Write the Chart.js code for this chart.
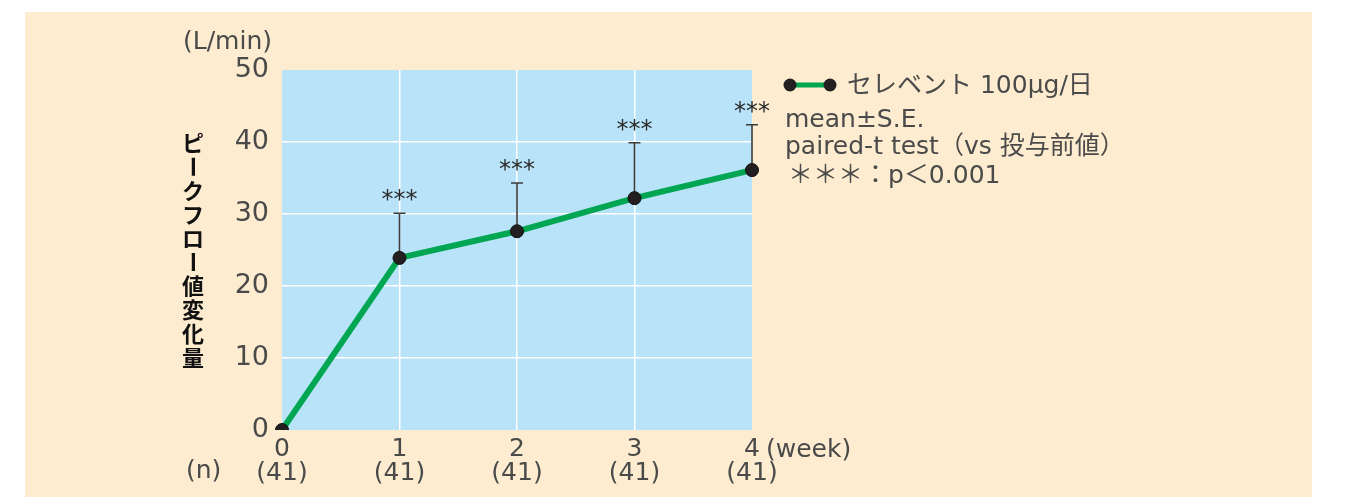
<!DOCTYPE html>
<html>
<head>
<meta charset="utf-8">
<script src="https://cdn.jsdelivr.net/npm/chart.js@4/dist/chart.umd.min.js"></script>
<style>
  html, body { margin: 0; padding: 0; background: #ffffff; }
  #wrap { width: 1346px; height: 497px; position: relative; }
</style>
</head>
<body>
<div id="wrap"><canvas id="peakFlowChart" width="1346" height="497"></canvas></div>
<script>
// Data
const weeks = ["0", "1", "2", "3", "4"];
const sampleSizes = ["41", "41", "41", "41", "41"];
const meanChange = [0, 23.9, 27.6, 32.2, 36.1];
const upperSE = [0, 30.1, 34.3, 39.9, 42.4];
const significance = ["", "***", "***", "***", "***"];
const yTicks = [0, 10, 20, 30, 40, 50];

const FONT = "'DejaVu Sans', 'Noto Sans CJK JP', sans-serif";
const JP_FONT = "'Noto Sans CJK JP', sans-serif";
const TEXT = "#4a4a4a";

/**
 * Panel + plot background, error bars, asterisks, titles and legend
 */
const decorations = {
  id: "decorations",
  beforeDraw: (chart) => {
    const { ctx, chartArea: a } = chart;
    ctx.save();
    ctx.fillStyle = "#fdeccf";
    ctx.fillRect(25, 12, 1287, 485);
    ctx.fillStyle = "#b8e3f8";
    ctx.fillRect(a.left, a.top, a.right - a.left, a.bottom - a.top);
    ctx.restore();
  },
  beforeDatasetsDraw: (chart) => {
    const { ctx, scales } = chart;
    const x = scales.x;
    const y = scales.y;
    ctx.save();
    ctx.strokeStyle = "#3d3d3d";
    ctx.lineWidth = 1.6;
    meanChange.forEach((v, i) => {
      if (upperSE[i] <= v) return;
      const px = x.getPixelForValue(i);
      const top = y.getPixelForValue(upperSE[i]);
      ctx.beginPath();
      ctx.moveTo(px, y.getPixelForValue(v));
      ctx.lineTo(px, top);
      ctx.moveTo(px - 6, top);
      ctx.lineTo(px + 6, top);
      ctx.stroke();
      if (significance[i]) {
        ctx.fillStyle = "#2a2a2a";
        ctx.font = "24px 'DejaVu Sans'";
        ctx.textAlign = "center";
        ctx.textBaseline = "alphabetic";
        // DejaVu's asterisk sits high, so drop the baseline to centre it
        ctx.fillText(significance[i], px, top - 19 + 13);
      }
    });
    ctx.restore();
  },
  afterDraw: (chart) => {
    const { ctx } = chart;
    ctx.save();
    ctx.fillStyle = TEXT;
    ctx.font = "25px " + FONT;
    ctx.textBaseline = "middle";
    ctx.textAlign = "left";
    ctx.fillText("(L/min)", 183, 42);
    ctx.fillText("(week)", 766, 450);
    ctx.fillText("(n)", 186, 471);

    // vertical axis title
    const title = "ピークフロー値変化量";
    ctx.fillStyle = "#111111";
    ctx.font = "bold 22px " + JP_FONT;
    ctx.textAlign = "center";
    [...title].forEach((ch, i) => {
      const cy = 143 + i * 23.8;
      if (ch === "ー") {
        ctx.save();
        ctx.translate(193, cy);
        ctx.rotate(Math.PI / 2);
        ctx.fillText(ch, 0, 0);
        ctx.restore();
      } else {
        ctx.fillText(ch, 193, cy);
      }
    });

    // legend
    ctx.strokeStyle = "#00a651";
    ctx.lineWidth = 5;
    ctx.beginPath();
    ctx.moveTo(790, 85);
    ctx.lineTo(830, 85);
    ctx.stroke();
    ctx.fillStyle = "#231f20";
    [790, 830].forEach((cx) => {
      ctx.beginPath();
      ctx.arc(cx, 85, 6.5, 0, Math.PI * 2);
      ctx.fill();
    });
    ctx.fillStyle = TEXT;
    ctx.font = "25px " + FONT;
    ctx.textAlign = "left";
    ctx.fillText("セレベント 100μg/日", 847, 86);
    ctx.fillText("mean±S.E.", 785, 120);
    ctx.fillText("paired-t test（vs 投与前値）", 785, 147);
    ctx.fillText("＊＊＊：p＜0.001", 788, 176);
    ctx.restore();
  },
};

const edgeColor = (n) => (ctx) =>
  ctx.index === 0 || ctx.index === n ? "rgba(0,0,0,0)" : "#ffffff";

const chart = new Chart(document.getElementById("peakFlowChart"), {
  type: "line",
  data: {
    labels: weeks,
    datasets: [
      {
        label: "セレベント 100μg/日",
        data: meanChange,
        borderColor: "#00a651",
        borderWidth: 6,
        pointBackgroundColor: "#231f20",
        pointBorderColor: "#111111",
        pointBorderWidth: 1,
        pointRadius: 6.5,
        tension: 0,
      },
    ],
  },
  options: {
    responsive: false,
    animation: false,
    layout: { padding: { left: 0, top: 70, right: 594, bottom: 0 } },
    plugins: {
      legend: { display: false },
      tooltip: { enabled: false },
    },
    scales: {
      x: {
        type: "category",
        offset: false,
        border: { display: false },
        grid: { color: edgeColor(4), lineWidth: 1.5, drawTicks: false },
        ticks: {
          color: TEXT,
          font: { family: FONT, size: 25, lineHeight: 0.95 },
          padding: 8,
          maxRotation: 0,
          autoSkip: false,
          callback: (v, i) => [weeks[i], "(" + sampleSizes[i] + ")"],
        },
        afterFit: (scale) => {
          scale.height = 67;
        },
      },
      y: {
        min: 0,
        max: 50,
        border: { display: false },
        afterBuildTicks: (scale) => {
          scale.ticks = yTicks.map((v) => ({ value: v }));
        },
        grid: { color: edgeColor(5), lineWidth: 1.5, drawTicks: false },
        ticks: {
          color: TEXT,
          font: { family: FONT, size: 27 },
          padding: 13,
        },
        afterFit: (scale) => {
          scale.width = 282;
        },
      },
    },
  },
  plugins: [decorations],
});
</script>
</body>
</html>
